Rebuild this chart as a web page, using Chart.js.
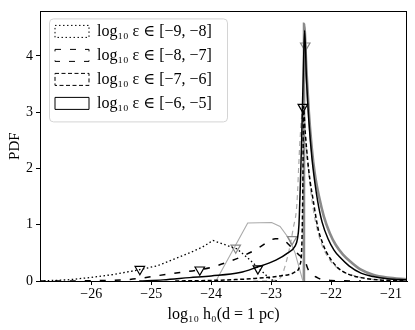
<!DOCTYPE html>
<html>
<head>
<meta charset="utf-8">
<script src="https://cdn.jsdelivr.net/npm/chart.js@4.4.1/dist/chart.umd.min.js"></script>
<style>
  html, body { margin: 0; padding: 0; background: #fff; }
</style>
</head>
<body>
<canvas id="pdfChart" width="415" height="330"></canvas>
<script>
const SERIF = "'Liberation Serif', 'DejaVu Serif', serif"

// axis ticks
const xTicks = [-26, -25, -24, -23, -22, -21]
const yTicks = [0, 1, 2, 3, 4]

const legendLabels = [
  'log₁₀ ε ∈ [−9, −8]',
  'log₁₀ ε ∈ [−8, −7]',
  'log₁₀ ε ∈ [−7, −6]',
  'log₁₀ ε ∈ [−6, −5]'
]

// black curves, [log10 h0, PDF]
const eps98 = [[-26.86, 0], [-26.4, 0.02], [-26.03, 0.06], [-25.6, 0.12], [-25.2, 0.2], [-24.9, 0.27],
  [-24.64, 0.38], [-24.36, 0.5], [-24.15, 0.6], [-23.97, 0.72], [-23.57, 0.57], [-23.39, 0.41],
  [-23.22, 0.24], [-23.0, 0.02], [-22.9, 0]]
const eps87 = [[-26.86, 0], [-26, 0.005], [-25.5, 0.02], [-25.24, 0.04], [-24.86, 0.1], [-24.52, 0.15],
  [-24.19, 0.2], [-23.97, 0.25], [-23.74, 0.33], [-23.54, 0.41], [-23.27, 0.55], [-23.15, 0.63],
  [-23.02, 0.72], [-22.93, 0.75], [-22.8, 0.73], [-22.68, 0.62], [-22.55, 0.48], [-22.43, 0.34],
  [-22.38, 0.2], [-22.23, 0.06], [-22.0, 0.01], [-21.5, 0]]
const eps76 = [[-24.6, 0], [-24.0, 0.01], [-23.6, 0.025], [-23.27, 0.045], [-22.85, 0.09], [-22.6, 0.16],
  [-22.52, 0.28], [-22.49, 0.55], [-22.477, 1.1], [-22.468, 1.9], [-22.46, 3.1], [-22.43, 2.64],
  [-22.39, 2.15], [-22.35, 1.78], [-22.3, 1.45], [-22.22, 0.95], [-22.15, 0.7], [-22.07, 0.5],
  [-21.9, 0.25], [-21.73, 0.13], [-21.5, 0.06], [-21.2, 0.02], [-20.73, 0.005]]
const eps65 = [[-25.2, 0], [-24.8, 0.02], [-24.36, 0.06], [-24.0, 0.09], [-23.52, 0.15], [-23.25, 0.24],
  [-22.92, 0.37], [-22.72, 0.5], [-22.6, 0.62], [-22.56, 0.75], [-22.535, 1.0], [-22.515, 1.6],
  [-22.49, 2.5], [-22.465, 3.6], [-22.44, 4.45], [-22.41, 3.6], [-22.37, 2.85], [-22.32, 2.2],
  [-22.27, 1.75], [-22.22, 1.4], [-22.15, 1.05], [-22.05, 0.75], [-21.95, 0.55], [-21.85, 0.42],
  [-21.7, 0.27], [-21.5, 0.14], [-21.3, 0.08], [-21.06, 0.04], [-20.73, 0.02]]

// gray curves
const grayBox = [[-23.92, 0], [-23.39, 1.03], [-22.99, 1.04], [-22.85, 0.97], [-22.7, 0.75],
  [-22.6, 0.5], [-22.48, 0.04], [-22.46, 0]]
const grayDash = [[-23.3, 0], [-22.95, 0.01], [-22.85, 0.05], [-22.72, 0.45], [-22.63, 0.94],
  [-22.57, 1.36], [-22.52, 2.46], [-22.48, 3.04], [-22.455, 3.2], [-22.43, 2.6], [-22.38, 2.0],
  [-22.3, 1.3], [-22.2, 0.8], [-22.05, 0.42], [-21.85, 0.2], [-21.6, 0.09], [-21.2, 0.02], [-20.73, 0.005]]
const graySpike = [[-22.452, 0], [-22.45, 4.57], [-22.41, 3.75], [-22.37, 3.0], [-22.32, 2.35],
  [-22.27, 1.9], [-22.2, 1.5], [-22.12, 1.15], [-22.02, 0.85], [-21.92, 0.64], [-21.8, 0.47],
  [-21.65, 0.32], [-21.5, 0.2], [-21.3, 0.11], [-21.06, 0.06], [-20.73, 0.03]]

// triangle markers
const blackMarks = [[-25.19, 0.21], [-24.19, 0.2], [-23.22, 0.22], [-22.47, 3.09]]
const grayMarks = [[-23.59, 0.59], [-22.65, 0.74], [-22.43, 4.18]]

const pts = arr => arr.map(([x, y]) => ({ x, y }))
const minus = v => String(v).replace('-', '\u2212')

function curve(label, data, color, width, dash, smooth) {
  return {
    type: 'line',
    label: label,
    data: pts(data),
    borderColor: color,
    backgroundColor: 'rgba(0,0,0,0)',
    borderWidth: width,
    borderDash: dash,
    pointRadius: 0,
    tension: 0,
    cubicInterpolationMode: smooth ? 'monotone' : 'default',
    fill: false
  }
}

function marks(data, color) {
  return {
    type: 'scatter',
    label: '',
    data: pts(data),
    pointStyle: 'triangle',
    rotation: 180,
    pointRadius: 5.5,
    borderWidth: 1.2,
    borderColor: color,
    backgroundColor: 'rgba(0,0,0,0)'
  }
}

// frame + legend box
const framePlugin = {
  id: 'frame',
  afterLayout(chart) {
    const ca = chart.chartArea
    chart.legend.left = ca.left + 7
    chart.legend.top = ca.top + 4
  },
  beforeDraw(chart) {
    const ctx = chart.ctx
    const lg = chart.legend
    ctx.save()
    ctx.beginPath()
    ctx.roundRect(lg.left + 2.5, lg.top + 3.5, 178, 103, 4)
    ctx.fillStyle = 'rgba(255,255,255,0.8)'
    ctx.fill()
    ctx.strokeStyle = '#d4d4d4'
    ctx.lineWidth = 1
    ctx.stroke()
    ctx.restore()
  },
  afterDraw(chart) {
    const ca = chart.chartArea
    const ctx = chart.ctx
    ctx.save()
    ctx.strokeStyle = '#000'
    ctx.lineWidth = 1
    ctx.strokeRect(Math.round(ca.left) + 0.5, Math.round(ca.top) + 0.5,
      Math.round(ca.right) - Math.round(ca.left) - 1, Math.round(ca.bottom) - Math.round(ca.top))
    ctx.restore()
  }
}

new Chart(document.getElementById('pdfChart'), {
  data: {
    datasets: [
      curve(legendLabels[0], eps98, '#000', 1.3, [1.5, 2.5], false),
      curve(legendLabels[1], eps87, '#000', 1.5, [6, 9], true),
      curve(legendLabels[2], eps76, '#000', 1.5, [4, 2.5], true),
      curve(legendLabels[3], eps65, '#000', 1.5, [], true),
      marks(blackMarks, '#000'),
      marks(grayMarks, '#888'),
      curve('', grayBox, '#aaa', 1.1, [], false),
      curve('', grayDash, '#aaa', 1.2, [5, 4], true),
      curve('', graySpike, '#8a8a8a', 2.6, [], true)
    ]
  },
  options: {
    responsive: false,
    devicePixelRatio: 1,
    animation: false,
    layout: { padding: { top: 7, right: 8, left: 0, bottom: 0 } },
    plugins: {
      tooltip: { enabled: false },
      legend: {
        position: 'chartArea',
        align: 'start',
        labels: {
          boxWidth: 34,
          boxHeight: 12,
          padding: 8,
          color: '#000',
          font: { family: SERIF, size: 16 },
          generateLabels: function (chart) {
            const items = Chart.defaults.plugins.legend.labels.generateLabels(chart)
            return items.filter(it => it.datasetIndex < 4).map(it => {
              it.lineWidth = 1
              it.fillStyle = 'rgba(0,0,0,0)'
              return it
            })
          }
        }
      }
    },
    scales: {
      x: {
        type: 'linear',
        min: -26.856,
        max: -20.732,
        afterBuildTicks: axis => { axis.ticks = xTicks.map(v => ({ value: v })) },
        afterFit: axis => { axis.height = 49 },
        ticks: {
          color: '#000',
          font: { family: SERIF, size: 14 },
          padding: 1,
          maxRotation: 0,
          autoSkip: false,
          callback: v => minus(v)
        },
        grid: { drawOnChartArea: false, tickLength: 4, color: '#000' },
        border: { color: '#000', width: 1 },
        title: {
          display: true,
          text: 'log₁₀ h₀(d = 1 pc)',
          color: '#000',
          font: { family: SERIF, size: 16 },
          padding: { top: 2, bottom: 6 }
        }
      },
      y: {
        type: 'linear',
        min: 0,
        max: 4.79,
        afterBuildTicks: axis => { axis.ticks = yTicks.map(v => ({ value: v })) },
        afterFit: axis => { axis.width = 40 },
        ticks: {
          color: '#000',
          font: { family: SERIF, size: 14 },
          padding: 3,
          callback: v => minus(v)
        },
        grid: { drawOnChartArea: false, tickLength: 4, color: '#000' },
        border: { color: '#000', width: 1 },
        title: {
          display: true,
          text: 'PDF',
          color: '#000',
          font: { family: SERIF, size: 15 },
          padding: { top: 6, bottom: 0 }
        }
      }
    }
  },
  plugins: [framePlugin]
})
</script>
</body>
</html>
